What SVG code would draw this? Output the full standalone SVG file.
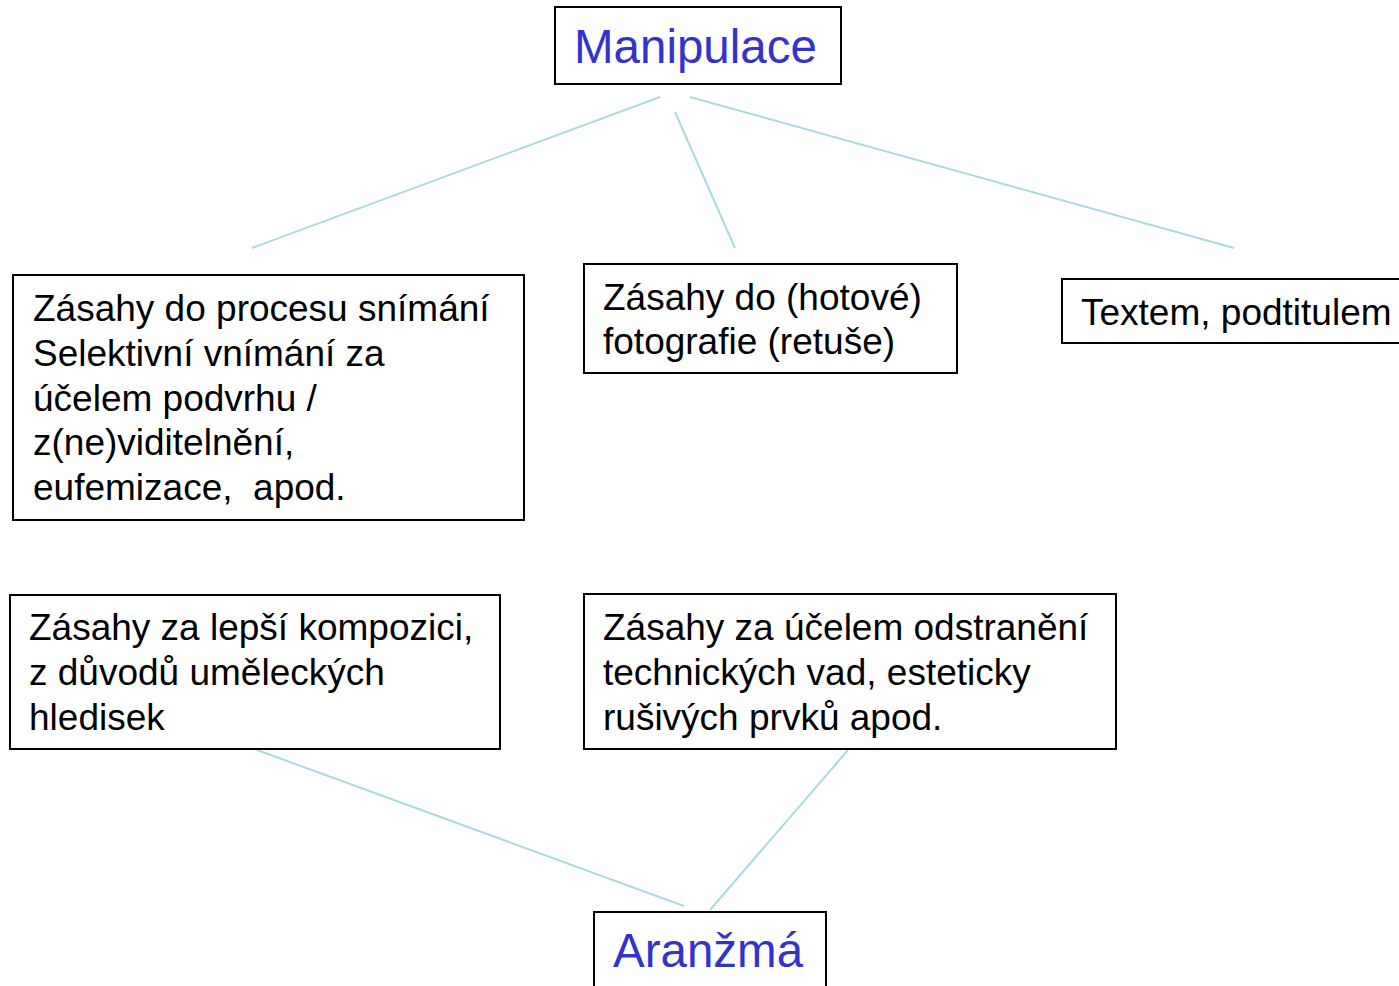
<svg xmlns="http://www.w3.org/2000/svg" width="1399" height="986" viewBox="0 0 1399 986">
<style>
.box{fill:#fff;stroke:#000;stroke-width:2}
.t{font-family:"Liberation Sans",Arial,sans-serif;font-size:37px;fill:#000}
.h{font-family:"Liberation Sans",Arial,sans-serif;font-size:47.5px;fill:#3333cc}
.c{stroke:#a9dadf;stroke-width:2;fill:none}
</style>
<rect width="1399" height="986" fill="#fff"/>
<g id="connectors">
<line class="c" x1="660" y1="97" x2="252" y2="248"/>
<line class="c" x1="675" y1="112" x2="735" y2="248"/>
<line class="c" x1="690" y1="97" x2="1234" y2="248"/>
<line class="c" x1="257" y1="750" x2="684" y2="906"/>
<line class="c" x1="848" y1="750" x2="710" y2="910"/>
</g>
<g id="manipulace">
<rect class="box" x="555" y="7" width="286" height="77"/>
<text class="h" x="574" y="63">Manipulace</text>
</g>
<g id="snimani">
<rect class="box" x="13" y="275" width="511" height="245"/>
<text class="t" x="33" y="321">Zásahy do procesu snímání</text>
<text class="t" x="33" y="366">Selektivní vnímání za</text>
<text class="t" x="33" y="411">účelem podvrhu /</text>
<text class="t" x="33" y="455">z(ne)viditelnění,</text>
<text class="t" x="33" y="500" xml:space="preserve">eufemizace,  apod.</text>
</g>
<g id="retuse">
<rect class="box" x="584" y="264" width="373" height="109"/>
<text class="t" x="603" y="310">Zásahy do (hotové)</text>
<text class="t" x="603" y="354">fotografie (retuše)</text>
</g>
<g id="textem">
<rect class="box" x="1062" y="279" width="345" height="64"/>
<text class="t" x="1081" y="325">Textem, podtitulem</text>
</g>
<g id="kompozice">
<rect class="box" x="10" y="595" width="490" height="154"/>
<text class="t" x="29" y="640">Zásahy za lepší kompozici,</text>
<text class="t" x="29" y="685">z důvodů uměleckých</text>
<text class="t" x="29" y="730">hledisek</text>
</g>
<g id="vady">
<rect class="box" x="584" y="594" width="532" height="155"/>
<text class="t" x="603" y="640">Zásahy za účelem odstranění</text>
<text class="t" x="603" y="685">technických vad, esteticky</text>
<text class="t" x="603" y="730">rušivých prvků apod.</text>
</g>
<g id="aranzma">
<rect class="box" x="594" y="912" width="232" height="90"/>
<text class="h" x="613" y="967">Aranžmá</text>
</g>
</svg>
